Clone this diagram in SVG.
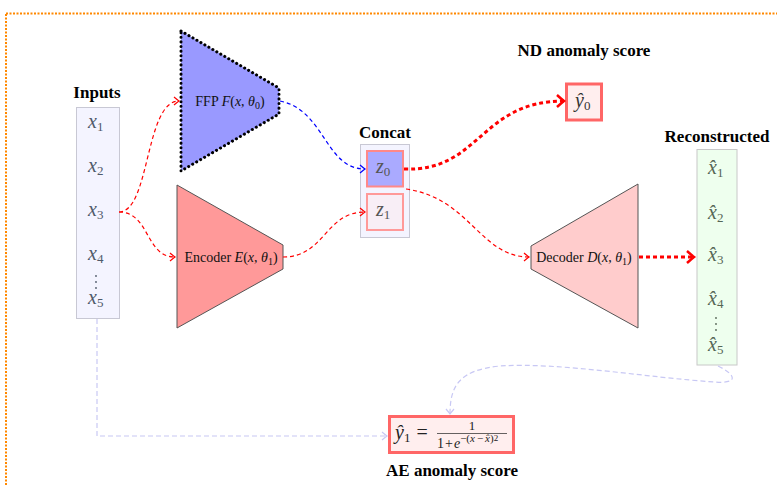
<svg xmlns="http://www.w3.org/2000/svg" width="777" height="485" viewBox="0 0 777 485">
<style>
.title{font-family:"Liberation Serif",serif;font-weight:bold;font-size:17px;fill:#000;text-anchor:middle}
.lbl{font-family:"Liberation Serif",serif;font-size:14px;fill:#111;text-anchor:middle}
.m{font-family:"Liberation Serif",serif;font-size:20px}
.it{font-style:italic}
.sub{font-size:13px}
.col{fill:#f4f4ff;stroke:#c8c8d4;stroke-width:1}
.rd{fill:none;stroke:#ff0000;stroke-width:1.2;stroke-dasharray:4,3}
.rdt{fill:none;stroke:#ff0000;stroke-width:3;stroke-dasharray:4,3}
.bd{fill:none;stroke:#0000ff;stroke-width:1.2;stroke-dasharray:4,3}
.ld{fill:none;stroke:#c8c8f4;stroke-width:1.2;stroke-dasharray:5,3}
</style>
<defs>
<marker id="ar" markerUnits="userSpaceOnUse" markerWidth="12" markerHeight="12" refX="0" refY="0" viewBox="-8 -6 10 12" orient="auto"><path d="M-5,-4 Q-1.5,-1 0,0 Q-1.5,1 -5,4" fill="none" stroke="#ff0000" stroke-width="1.2"/></marker>
<marker id="art" markerUnits="userSpaceOnUse" markerWidth="16" markerHeight="16" refX="0" refY="0" viewBox="-10 -8 12 16" orient="auto"><path d="M-7,-6 Q-2,-1.5 0,0 Q-2,1.5 -7,6" fill="none" stroke="#ff0000" stroke-width="2.5"/></marker>
<marker id="ab" markerUnits="userSpaceOnUse" markerWidth="12" markerHeight="12" refX="0" refY="0" viewBox="-8 -6 10 12" orient="auto"><path d="M-5,-4 Q-1.5,-1 0,0 Q-1.5,1 -5,4" fill="none" stroke="#0000ff" stroke-width="1.2"/></marker>
<marker id="al" markerUnits="userSpaceOnUse" markerWidth="12" markerHeight="12" refX="0" refY="0" viewBox="-8 -6 10 12" orient="auto"><path d="M-5,-4 Q-1.5,-1 0,0 Q-1.5,1 -5,4" fill="none" stroke="#c8c8f4" stroke-width="1.2"/></marker>
</defs>
<rect width="777" height="485" fill="#fff"/>
<rect x="6" y="13.5" width="820" height="520" fill="none" stroke="#ff8800" stroke-width="2" stroke-dasharray="2,1.5"/>

<g id="inputs">
<text class="title" x="97" y="98">Inputs</text>
<rect class="col" x="76.5" y="107.5" width="43" height="211"/>
<g fill="#4f5a6a">
<text class="m" x="88" y="128"><tspan class="it">x</tspan><tspan class="sub" dy="3">1</tspan></text>
<text class="m" x="88" y="172"><tspan class="it">x</tspan><tspan class="sub" dy="3">2</tspan></text>
<text class="m" x="88" y="216"><tspan class="it">x</tspan><tspan class="sub" dy="3">3</tspan></text>
<text class="m" x="88" y="260"><tspan class="it">x</tspan><tspan class="sub" dy="3">4</tspan></text>
<circle cx="96" cy="276" r="0.9"/><circle cx="96" cy="282" r="0.9"/><circle cx="96" cy="288" r="0.9"/>
<text class="m" x="88" y="304"><tspan class="it">x</tspan><tspan class="sub" dy="3">5</tspan></text>
</g>
</g>

<g id="ffp">
<polygon points="181,31 279,88 279,114 181,171" fill="#9999ff" stroke="#000" stroke-width="3" stroke-dasharray="0.1,4.5" stroke-linecap="round" stroke-linejoin="round"/>
<text class="lbl" x="230" y="106">FFP <tspan class="it">F</tspan>(<tspan class="it">x</tspan>, <tspan class="it">θ</tspan><tspan font-size="10" dy="3">0</tspan><tspan dy="-3">)</tspan></text>
</g>

<g id="encoder">
<polygon points="177,185 283,245 283,269 177,328" fill="#ff9999" stroke="#555" stroke-width="1"/>
<text class="lbl" x="231" y="261.5">Encoder <tspan class="it">E</tspan>(<tspan class="it">x</tspan>, <tspan class="it">θ</tspan><tspan font-size="10" dy="3">1</tspan><tspan dy="-3">)</tspan></text>
</g>

<g id="concat">
<text class="title" x="385" y="138">Concat</text>
<rect class="col" x="360.5" y="144.5" width="49" height="93"/>
</g>
<g id="z0">
<rect x="367" y="151" width="36" height="35.5" fill="#aaaaff" stroke="#ff8888" stroke-width="2"/>
<text class="m" x="376" y="173" fill="#555"><tspan class="it">z</tspan><tspan class="sub" dy="3">0</tspan></text>
</g>
<g id="z1">
<rect x="367" y="194" width="36" height="36" fill="#f8eef6" stroke="#ff9999" stroke-width="2"/>
<text class="m" x="376" y="216" fill="#555"><tspan class="it">z</tspan><tspan class="sub" dy="3">1</tspan></text>
</g>

<g id="y0">
<text class="title" x="584" y="56">ND anomaly score</text>
<rect x="566.5" y="84" width="35" height="36" fill="#ffeeee" stroke="#ff6666" stroke-width="3"/>
<text class="m" x="575" y="107" fill="#333"><tspan class="it">ŷ</tspan><tspan class="sub" dy="3">0</tspan></text>
</g>

<g id="decoder">
<polygon points="531,246 638,184 638,328 531,269" fill="#ffcccc" stroke="#555" stroke-width="1"/>
<text class="lbl" x="584" y="261.5">Decoder <tspan class="it">D</tspan>(<tspan class="it">x</tspan>, <tspan class="it">θ</tspan><tspan font-size="10" dy="3">1</tspan><tspan dy="-3">)</tspan></text>
</g>

<g id="reconstructed">
<text class="title" x="717" y="142">Reconstructed</text>
<rect x="697" y="149.5" width="40" height="215.5" fill="#eeffee" stroke="#c8c8c8" stroke-width="1"/>
<g fill="#556655">
<text class="m" x="708" y="174"><tspan class="it">x̂</tspan><tspan class="sub" dy="3">1</tspan></text>
<text class="m" x="708" y="219"><tspan class="it">x̂</tspan><tspan class="sub" dy="3">2</tspan></text>
<text class="m" x="708" y="261"><tspan class="it">x̂</tspan><tspan class="sub" dy="3">3</tspan></text>
<text class="m" x="708" y="305"><tspan class="it">x̂</tspan><tspan class="sub" dy="3">4</tspan></text>
<circle cx="716" cy="318" r="0.9"/><circle cx="716" cy="324" r="0.9"/><circle cx="716" cy="330" r="0.9"/>
<text class="m" x="708" y="351"><tspan class="it">x̂</tspan><tspan class="sub" dy="3">5</tspan></text>
</g>
</g>

<g id="y1">
<rect x="389.5" y="416.5" width="124" height="36" fill="#ffeeee" stroke="#ff6666" stroke-width="3"/>
<g fill="#222" font-family="Liberation Serif, serif">
<text class="m" x="395" y="439"><tspan class="it">ŷ</tspan><tspan class="sub" dy="3">1</tspan><tspan dx="6" dy="-3">=</tspan></text>
<text x="472" y="430" font-size="13" text-anchor="middle">1</text>
<line x1="437" y1="433.5" x2="507" y2="433.5" stroke="#222" stroke-width="0.7"/>
<text x="437" y="447.5" font-size="14">1<tspan dx="1">+</tspan><tspan dx="1" font-style="italic">e</tspan><tspan font-size="11" dy="-6">−(<tspan font-style="italic">x</tspan><tspan dx="2">−</tspan><tspan dx="2" font-style="italic">x̂</tspan>)</tspan><tspan font-size="9" dy="-1">2</tspan></text>
</g>
<text class="title" x="452" y="476">AE anomaly score</text>
</g>

<g id="connectors">
<path class="rd" d="M119,212 C150,212 145,101 179,101" marker-end="url(#ar)"/>
<path class="rd" d="M119,212 C150,212 145,257 175,257" marker-end="url(#ar)"/>
<path class="bd" d="M280,101 C325,110 325,169 365,169" marker-end="url(#ab)"/>
<path class="rd" d="M283,257 C325,257 325,212 365,212" marker-end="url(#ar)"/>
<path class="rdt" d="M404,169 C480,172 480,101 564,101" marker-end="url(#art)"/>
<path class="rd" d="M406,189 C470,198 480,257 529,257" marker-end="url(#ar)"/>
<path class="rdt" d="M639,257 L694,257" marker-end="url(#art)"/>
<path class="ld" d="M97,319 L97,436 L387,436" marker-end="url(#al)"/>
<path class="ld" d="M718,366 C737,375 738,384 715,382 C650,378 560,362 500,366 C460,370 450,385 450,414" marker-end="url(#al)"/>
</g>
</svg>
